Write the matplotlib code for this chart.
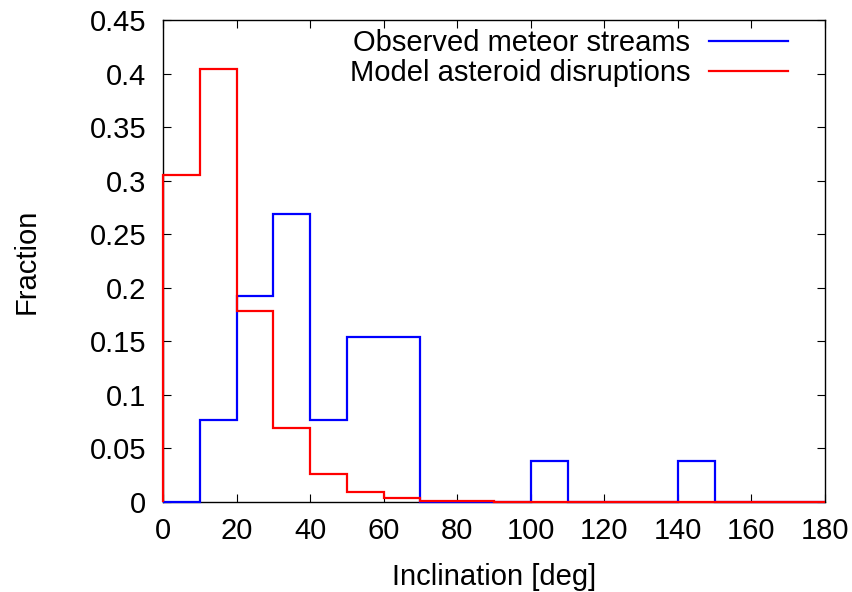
import matplotlib
matplotlib.use("Agg")
import matplotlib.pyplot as plt
import numpy as np
from matplotlib.ticker import FormatStrFormatter, MultipleLocator

# bin edges in degrees
edges = np.arange(0, 190, 10)

observed = [0.0, 0.0769, 0.1923, 0.2692, 0.0769, 0.1538, 0.1538, 0.0, 0.0,
            0.0, 0.0385, 0.0, 0.0, 0.0, 0.0385, 0.0, 0.0, 0.0]
model = [0.305, 0.404, 0.178, 0.069, 0.026, 0.0093, 0.0035, 0.0012, 0.0005,
         0.0002, 0.0001, 0.0, 0.0, 0.0, 0.0, 0.0, 0.0, 0.0]

labels = ["Observed meteor streams", "Model asteroid disruptions"]

plt.rcParams["font.family"] = ["Liberation Sans", "DejaVu Sans"]
plt.rcParams["font.size"] = 21

fig = plt.figure(figsize=(8.53, 5.92), dpi=100)
ax = fig.add_axes([163 / 853, 90 / 592, 662 / 853, 482 / 592])

ax.stairs(observed, edges, baseline=0, color="#0000ff", lw=1.6, label=labels[0],
          zorder=3, clip_on=False)
ax.stairs(model, edges, baseline=0, color="#ff0000", lw=1.6, label=labels[1],
          zorder=3, clip_on=False)

ax.set_xlim(0, 180)
ax.set_ylim(0, 0.45)
ax.xaxis.set_major_locator(MultipleLocator(20))
ax.yaxis.set_major_locator(MultipleLocator(0.05))
ax.yaxis.set_major_formatter(FormatStrFormatter("%g"))
ax.tick_params(direction="in", length=6, width=0.8, top=True, right=True)
ax.tick_params(axis="y", pad=12)
ax.tick_params(axis="x", pad=11)

for s in ax.spines.values():
    s.set_linewidth(1.0)

ax.set_xlabel("Inclination [deg]", labelpad=13)
ax.set_ylabel("Fraction", labelpad=35)

ax.legend(loc="upper right", frameon=False, markerfirst=False, handlelength=2.7,
          handletextpad=0.65, labelspacing=0.05, borderaxespad=0.0,
          bbox_to_anchor=(0.962, 1.005))

fig.savefig("out.png", dpi=100)
